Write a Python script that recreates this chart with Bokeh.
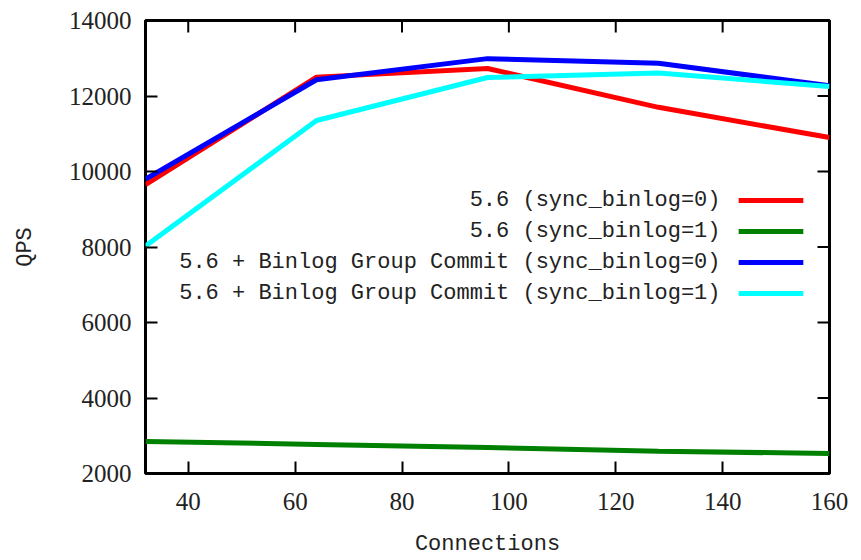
from bokeh.plotting import figure
from bokeh.models import FixedTicker, Range1d, ColumnDataSource
from bokeh.core.properties import value
from bokeh.embed import file_html
from bokeh.resources import INLINE

connections = [32, 64, 96, 128, 160]
qps_56_sync0 = [9650, 12500, 12730, 11700, 10900]
qps_56_sync1 = [2850, 2770, 2690, 2590, 2530]
qps_bgc_sync0 = [9800, 12430, 12990, 12870, 12270]
qps_bgc_sync1 = [8030, 11350, 12490, 12610, 12250]

series_names = [
    "5.6 (sync_binlog=0)",
    "5.6 (sync_binlog=1)",
    "5.6 + Binlog Group Commit (sync_binlog=0)",
    "5.6 + Binlog Group Commit (sync_binlog=1)",
]
series_values = [qps_56_sync0, qps_56_sync1, qps_bgc_sync0, qps_bgc_sync1]
colors = ["#ff0000", "#008000", "#0000ff", "#00ffff"]

x_ticks = [40, 60, 80, 100, 120, 140, 160]
y_ticks = [2000, 4000, 6000, 8000, 10000, 12000, 14000]

X_MIN, X_MAX = 32, 160
Y_MIN, Y_MAX = 2000, 14000
FRAME_W, FRAME_H = 684, 453
TICK_PX = 12

MONO = "Liberation Mono"
SERIF = "Liberation Serif"

p = figure(width=861, height=560,
           x_range=Range1d(X_MIN, X_MAX), y_range=Range1d(Y_MIN, Y_MAX),
           output_backend="svg", toolbar_location=None,
           min_border_left=145, min_border_right=32,
           min_border_top=20, min_border_bottom=87)
p.grid.visible = False
p.outline_line_color = "black"
p.outline_line_width = 3
p.background_fill_color = "white"
p.border_fill_color = "white"

for ax in (p.xaxis[0], p.yaxis[0]):
    ax.axis_line_color = None
    ax.major_tick_in = TICK_PX
    ax.major_tick_out = 0
    ax.minor_tick_line_color = None
    ax.major_tick_line_width = 2
    ax.major_tick_line_color = "black"
    ax.major_label_text_font = SERIF
    ax.major_label_text_font_size = "25px"
    ax.major_label_text_color = "#222222"
    ax.major_label_text_line_height = 1.0
    ax.axis_label_text_font = MONO
    ax.axis_label_text_font_size = "22px"
    ax.axis_label_text_font_style = "normal"
    ax.axis_label_text_color = "#222222"
    ax.axis_label_text_line_height = 1.0

p.xaxis.ticker = FixedTicker(ticks=x_ticks)
p.yaxis.ticker = FixedTicker(ticks=y_ticks)
p.xaxis.axis_label = "Connections"
p.yaxis.axis_label = "QPS"
p.xaxis.major_label_standoff = 19
p.yaxis.major_label_standoff = 14
p.xaxis.axis_label_standoff = 19
p.yaxis.axis_label_standoff = 28

# mirrored inward ticks on the top and right edges (gnuplot style)
tick_len_y = (Y_MAX - Y_MIN) * TICK_PX / FRAME_H
tick_len_x = (X_MAX - X_MIN) * TICK_PX / FRAME_W
p.segment(x0=x_ticks, y0=[Y_MAX] * len(x_ticks), x1=x_ticks,
          y1=[Y_MAX - tick_len_y] * len(x_ticks),
          line_color="black", line_width=2)
p.segment(x0=[X_MAX] * len(y_ticks), y0=y_ticks,
          x1=[X_MAX - tick_len_x] * len(y_ticks), y1=y_ticks,
          line_color="black", line_width=2)

for name, vals, col in zip(series_names, series_values, colors):
    p.line(connections, vals, line_color=col, line_width=5)

# legend (text right-aligned, sample line to the right), inside the plot
leg_text_x = 139.6
leg_line_x0 = 143.0
leg_line_x1 = 155.1
leg_top_y = 9230
leg_step = 820
leg_y = [leg_top_y - i * leg_step for i in range(len(series_names))]
leg_src = ColumnDataSource(dict(
    x=[leg_text_x] * len(series_names), y=leg_y, text=series_names,
    x0=[leg_line_x0] * len(series_names), x1=[leg_line_x1] * len(series_names),
    color=colors))
p.text(x="x", y="y", text="text", source=leg_src,
       text_font=value(MONO), text_font_size="22px", text_color="#222222",
       text_align="right", text_baseline="middle")
p.segment(x0="x0", y0="y", x1="x1", y1="y", line_color="color",
          line_width=5, source=leg_src)

open("out.html", "w").write(file_html(p, INLINE))
